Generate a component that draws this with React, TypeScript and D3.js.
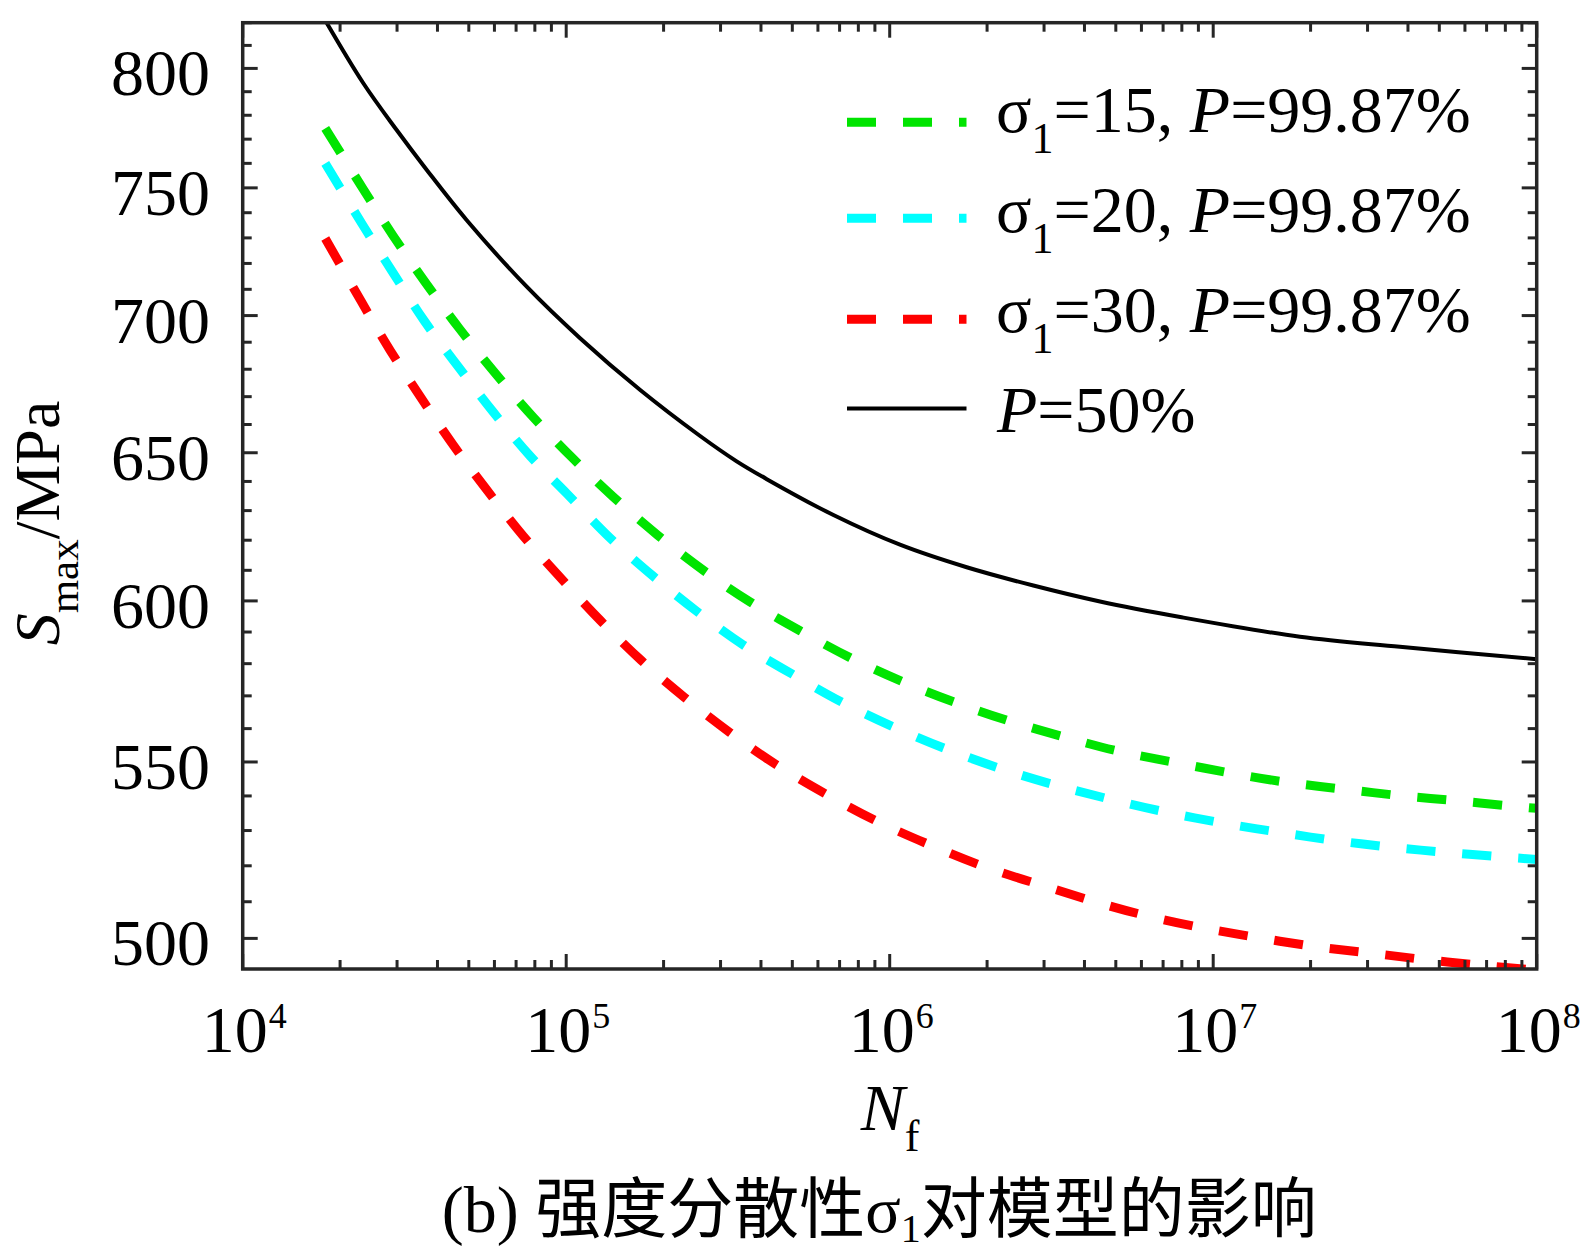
import * as d3 from 'd3'

// S-N curves: N_f (cycles) and S_max (MPa)
const blackN = [1.8e4, 2.36e4, 2.992e4, 3.707e4, 4.92e4, 7.551e4, 1.104e5, 1.69e5, 2.588e5, 3.365e5, 4.169e5, 6.699e5, 1.076e6, 1.73e6, 2.78e6, 4.467e6, 7.907e6, 1.854e7, 3.776e7, 1e8]
const blackS = [821, 793.6, 773.8, 757.3, 737.1, 711.0, 691.5, 672.5, 656.0, 647.0, 640.8, 628.5, 618.5, 611.0, 605.0, 599.8, 594.8, 588.5, 585.3, 581.4]

const greenN = [1.8e4, 2.35e4, 2.922e4, 3.687e4, 4.696e4, 6.067e4, 7.912e4, 1.047e5, 1.395e5, 1.918e5, 2.719e5, 3.7e5, 5.281e5, 7.541e5, 1.094e6, 1.6e6, 2.343e6, 3.483e6, 5.152e6, 7.674e6, 1.149e7, 1.715e7, 2.573e7, 3.853e7, 5.794e7, 8.675e7, 1e8]
const greenS = [774.5, 749.8, 730.7, 712.3, 694.8, 678.2, 662.6, 648.1, 634.8, 621.7, 609.2, 599.7, 590.4, 581.9, 574.4, 567.9, 562.3, 557.4, 553.1, 549.8, 546.6, 543.9, 541.9, 540.0, 538.5, 536.9, 536.4]

const cyanN = [1.8e4, 2.35e4, 2.922e4, 3.643e4, 4.64e4, 5.953e4, 7.729e4, 1.003e5, 1.359e5, 1.851e5, 2.543e5, 3.527e5, 5.0e5, 7.137e5, 1.033e6, 1.5e6, 2.192e6, 3.243e6, 4.821e6, 7.146e6, 1.075e7, 1.601e7, 2.397e7, 3.587e7, 5.395e7, 8.079e7, 1e8]
const cyanS = [760.0, 735.1, 716.2, 698.0, 680.9, 664.4, 648.9, 635.9, 621.0, 608.2, 596.5, 585.9, 576.7, 568.0, 560.4, 553.8, 548.1, 543.2, 539.0, 535.3, 532.1, 529.5, 527.1, 525.2, 523.7, 522.4, 521.8]

const redN = [1.8e4, 2.322e4, 2.853e4, 3.558e4, 4.477e4, 5.68e4, 7.37e4, 9.636e4, 1.278e5, 1.703e5, 2.317e5, 3.208e5, 4.475e5, 6.355e5, 9.115e5, 1.316e6, 1.995e6, 3.02e6, 4.469e6, 6.199e6, 9.216e6, 1.378e7, 2.064e7, 3.09e7, 4.623e7, 6.922e7, 1e8]
const redS = [729.8, 705.5, 687.1, 669.6, 652.7, 637.1, 621.4, 607.4, 593.6, 581.1, 569.6, 558.8, 549.1, 540.5, 532.7, 526.1, 519.5, 514.3, 509.6, 506.2, 502.9, 500.2, 497.8, 496.0, 494.2, 492.7, 491.5]

const sigmaValues = ['15', '20', '30']
const yMajorTicks = [500, 550, 600, 650, 700, 750, 800]
const xMajorTicks = [1e4, 1e5, 1e6, 1e7, 1e8]
const xExponents = ['4', '5', '6', '7', '8']

const W = 1582
const H = 1252
const left = 242.7
const right = 1536.7
const top = 22.7
const bottom = 969

const SERIF = '"Liberation Serif", "Times New Roman", serif'
const CJK = '"Noto Sans CJK SC", sans-serif'
const AXIS = '#262626'

const x = d3.scaleLog().domain([1e4, 1e8]).range([left, right])
const y = d3.scaleLog().domain([491.8, 820]).range([bottom, top])

const series = [
  { key: 'green', color: '#00e400', N: greenN, S: greenS, dashed: true },
  { key: 'cyan', color: '#00ffff', N: cyanN, S: cyanS, dashed: true },
  { key: 'red', color: '#ff0000', N: redN, S: redS, dashed: true },
  { key: 'black', color: '#000000', N: blackN, S: blackS, dashed: false },
]

const line = d3.line<[number, number]>()
  .x(d => x(d[0]))
  .y(d => y(d[1]))
  .curve(d3.curveCatmullRom.alpha(0.5))

const yMinorTicks = d3.range(500, 821, 10).filter(v => !yMajorTicks.includes(v))
const xMinorTicks = xMajorTicks.slice(0, -1).flatMap(p => d3.range(2, 10).map(k => k * p))

const MAJOR = 15
const MINOR = 9

export default function App() {
  const legendColors = ['#00e400', '#00ffff', '#ff0000']
  return (
    <svg width={W} height={H} style={{ position: 'absolute', left: 0, top: 0, background: '#fff' }}>
      <defs>
        <clipPath id="plot">
          <rect x={left} y={top} width={right - left} height={bottom - top} />
        </clipPath>
      </defs>

      <g clipPath="url(#plot)">
        {series.map(s => (
          <path
            key={s.key}
            d={line(s.N.map((n, i) => [n, s.S[i]] as [number, number])) ?? ''}
            fill="none"
            stroke={s.color}
            strokeWidth={s.dashed ? 9 : 4}
            strokeDasharray={s.dashed ? '29 27' : undefined}
            strokeLinecap="butt"
          />
        ))}
      </g>

      {/* ticks on all four sides, pointing inward */}
      <g stroke={AXIS} strokeWidth={3}>
        {yMajorTicks.map(v => (
          <g key={'ym' + v}>
            <line x1={left} x2={left + MAJOR} y1={y(v)} y2={y(v)} />
            <line x1={right} x2={right - MAJOR} y1={y(v)} y2={y(v)} />
          </g>
        ))}
        {yMinorTicks.map(v => (
          <g key={'yn' + v}>
            <line x1={left} x2={left + MINOR} y1={y(v)} y2={y(v)} />
            <line x1={right} x2={right - MINOR} y1={y(v)} y2={y(v)} />
          </g>
        ))}
        {xMajorTicks.map(v => (
          <g key={'xm' + v}>
            <line x1={x(v)} x2={x(v)} y1={bottom} y2={bottom - MAJOR} />
            <line x1={x(v)} x2={x(v)} y1={top} y2={top + MAJOR} />
          </g>
        ))}
        {xMinorTicks.map(v => (
          <g key={'xn' + v}>
            <line x1={x(v)} x2={x(v)} y1={bottom} y2={bottom - MINOR} />
            <line x1={x(v)} x2={x(v)} y1={top} y2={top + MINOR} />
          </g>
        ))}
      </g>
      <rect x={left} y={top} width={right - left} height={bottom - top} fill="none" stroke={AXIS} strokeWidth={3.5} />

      {/* y tick labels */}
      {yMajorTicks.map(v => (
        <text key={'yl' + v} x={210} y={y(v) + 27} textAnchor="end" fontFamily={SERIF} fontSize={66} fill="#000">
          {v}
        </text>
      ))}

      {/* x tick labels 10^n */}
      {xMajorTicks.map((v, i) => (
        <text key={'xl' + v} x={x(v) + 25} y={1051.7} fontFamily={SERIF} fontSize={66} fill="#000">
          <tspan textAnchor="end">10</tspan>
          <tspan x={x(v) + 26} y={1028} fontSize={36}>{xExponents[i]}</tspan>
        </text>
      ))}

      {/* axis titles */}
      <text x={890} y={1130} textAnchor="middle" fontFamily={SERIF} fontSize={66} fill="#000">
        <tspan fontStyle="italic">N</tspan>
        <tspan fontSize={44} dy={21}>f</tspan>
      </text>
      <text transform="translate(59,523) rotate(-90)" textAnchor="middle" fontFamily={SERIF} fontSize={64} fill="#000">
        <tspan fontStyle="italic">S</tspan>
        <tspan fontSize={43} dy={19}>max</tspan>
        <tspan dy={-19}>/MPa</tspan>
      </text>

      {/* legend */}
      {sigmaValues.map((sv, i) => {
        const base = 131.7 + i * 100
        const ly = [122.3, 218.3, 319.3][i]
        return (
          <g key={'lg' + sv}>
            <line x1={847} x2={966.5} y1={ly} y2={ly} stroke={legendColors[i]} strokeWidth={9} strokeDasharray="29 27" />
            <text x={996} y={base} fontFamily={SERIF} fontSize={66} fill="#000">
              <tspan>σ</tspan>
              <tspan fontSize={44} dy={21}>1</tspan>
              <tspan dy={-21}>{`=${sv}, `}</tspan>
              <tspan fontStyle="italic">P</tspan>
              <tspan>=99.87%</tspan>
            </text>
          </g>
        )
      })}
      <line x1={847} x2={966.5} y1={408.5} y2={408.5} stroke="#000" strokeWidth={4} />
      <text x={997} y={431.7} fontFamily={SERIF} fontSize={66} fill="#000">
        <tspan fontStyle="italic">P</tspan>
        <tspan>=50%</tspan>
      </text>

      {/* caption */}
      <text x={441.7} y={1231.7} fontSize={66} fill="#000" fontFamily={SERIF}>
        <tspan>(b) </tspan>
        <tspan fontFamily={CJK}>强度分散性</tspan>
        <tspan>σ</tspan>
        <tspan fontSize={40} dy={10}>1</tspan>
        <tspan dy={-10} fontFamily={CJK}>对模型的影响</tspan>
      </text>
    </svg>
  )
}
